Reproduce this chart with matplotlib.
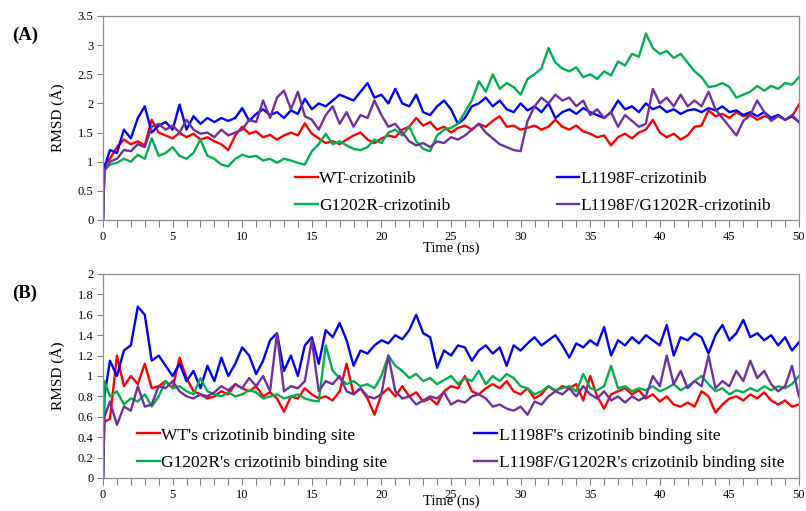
import numpy as np
import matplotlib.pyplot as plt
from matplotlib.ticker import MultipleLocator, FuncFormatter

plt.rcParams['font.family'] = ['Liberation Serif', 'DejaVu Serif']

# sample times (ns): start, first frame, then every 0.5 ns
time = np.concatenate([[0.0, 0.1], np.arange(0.5, 50.01, 0.5)])

# ---- (A) RMSD of complexes ----
wt_a = [0, 0.95,
        1.05, 1.25, 1.38, 1.30, 1.35, 1.28, 1.72, 1.50, 1.45, 1.40,
        1.50, 1.42, 1.48, 1.38, 1.42, 1.35, 1.30, 1.20, 1.45, 1.60,
        1.48, 1.52, 1.42, 1.46, 1.38, 1.45, 1.50, 1.45, 1.66, 1.48,
        1.40, 1.32, 1.35, 1.30, 1.38, 1.45, 1.50, 1.38, 1.32, 1.40,
        1.45, 1.42, 1.55, 1.60, 1.75, 1.62, 1.68, 1.55, 1.60, 1.50,
        1.58, 1.62, 1.55, 1.65, 1.60, 1.70, 1.78, 1.60, 1.62, 1.55,
        1.58, 1.62, 1.55, 1.60, 1.72, 1.60, 1.55, 1.62, 1.52, 1.48,
        1.42, 1.45, 1.28, 1.42, 1.48, 1.40, 1.50, 1.55, 1.72, 1.50,
        1.42, 1.48, 1.38, 1.45, 1.60, 1.62, 1.88, 1.78, 1.82, 1.75,
        1.85, 1.78, 1.80, 1.72, 1.78, 1.75, 1.80, 1.72, 1.78, 1.98]
l1198f_a = [0, 0.90,
            1.20, 1.15, 1.55, 1.40, 1.75, 1.95, 1.50, 1.62, 1.68, 1.55,
            1.98, 1.55, 1.78, 1.65, 1.75, 1.68, 1.75, 1.70, 1.75, 1.92,
            1.70, 1.82, 1.90, 1.80, 1.85, 1.75, 1.88, 1.82, 2.08, 1.90,
            2.00, 1.95, 2.05, 2.15, 2.10, 2.05, 2.20, 2.35, 2.10, 2.15,
            2.00, 2.25, 2.00, 1.95, 2.15, 1.85, 1.80, 1.95, 2.05, 1.90,
            1.65, 1.75, 1.95, 2.00, 2.10, 1.95, 2.05, 1.90, 1.85, 2.00,
            1.88, 1.95, 1.85, 2.00, 1.75, 1.85, 1.90, 1.82, 1.92, 1.85,
            1.80, 1.75, 1.85, 2.05, 1.90, 1.95, 1.85, 2.00, 1.90, 1.95,
            1.85, 1.90, 1.82, 1.88, 1.90, 1.85, 1.92, 1.88, 1.95, 1.85,
            1.88, 1.80, 1.85, 1.78, 1.85, 1.75, 1.80, 1.72, 1.78, 1.68]
g1202r_a = [0, 0.85,
            0.95, 0.98, 1.05, 1.00, 1.12, 1.05, 1.40, 1.10, 1.15, 1.25,
            1.10, 1.05, 1.15, 1.38, 1.10, 1.05, 0.95, 0.92, 1.05, 1.12,
            1.08, 1.10, 1.02, 1.05, 0.98, 1.05, 1.02, 0.98, 0.95, 1.18,
            1.30, 1.48, 1.30, 1.35, 1.28, 1.22, 1.20, 1.25, 1.38, 1.32,
            1.50, 1.55, 1.45, 1.60, 1.35, 1.22, 1.18, 1.45, 1.55, 1.58,
            1.65, 1.85, 2.05, 2.38, 2.20, 2.50, 2.25, 2.35, 2.28, 2.15,
            2.42, 2.50, 2.60, 2.95, 2.70, 2.60, 2.55, 2.62, 2.45, 2.50,
            2.42, 2.55, 2.48, 2.72, 2.65, 2.85, 2.80, 3.20, 2.95, 2.85,
            2.90, 2.78, 2.85, 2.70, 2.55, 2.45, 2.28, 2.30, 2.35, 2.28,
            2.10, 2.15, 2.20, 2.30, 2.22, 2.30, 2.25, 2.35, 2.32, 2.45]
double_a = [0, 0.85,
            1.00, 1.05, 1.20, 1.18, 1.30, 1.25, 1.60, 1.65, 1.55, 1.62,
            1.50, 1.72, 1.55, 1.48, 1.50, 1.42, 1.55, 1.45, 1.50, 1.55,
            1.72, 1.68, 2.05, 1.75, 2.10, 2.22, 1.90, 2.20, 1.78, 1.72,
            1.55, 1.80, 1.95, 1.65, 1.85, 1.60, 1.80, 1.75, 2.05, 1.80,
            1.60, 1.65, 1.50, 1.35, 1.28, 1.32, 1.25, 1.35, 1.32, 1.42,
            1.38, 1.45, 1.55, 1.65, 1.50, 1.40, 1.30, 1.25, 1.20, 1.18,
            1.70, 1.95, 2.10, 2.00, 2.15, 2.05, 2.10, 1.95, 2.05, 1.80,
            1.90, 1.75, 1.85, 1.60, 1.80, 1.70, 1.60, 1.65, 2.25, 2.00,
            2.10, 1.95, 2.15, 1.95, 2.05, 1.95, 2.20, 1.90, 1.75, 1.60,
            1.45, 1.70, 1.80, 2.05, 1.85, 1.70, 1.78, 1.72, 1.80, 1.68]

# ---- (B) RMSD of crizotinib binding sites ----
wt_b = [0, 0.55,
        0.58, 1.20, 0.90, 1.00, 0.92, 1.12, 0.88, 0.90, 0.95, 0.88,
        1.18, 0.98, 0.85, 0.82, 0.78, 0.80, 0.85, 0.82, 0.92, 0.88,
        0.85, 0.90, 0.80, 0.84, 0.78, 0.65, 0.80, 0.78, 0.88, 0.82,
        0.78, 0.80, 0.76, 0.85, 1.12, 0.82, 0.88, 0.78, 0.62, 0.82,
        0.88, 0.80, 0.90, 0.80, 0.84, 0.75, 0.78, 0.72, 0.85, 0.90,
        0.88, 1.00, 0.85, 0.82, 0.88, 0.92, 0.88, 0.95, 0.85, 0.82,
        0.88, 0.78, 0.82, 0.90, 0.85, 0.90, 0.88, 0.92, 0.76, 1.00,
        0.80, 0.68, 0.82, 0.85, 0.88, 0.82, 0.86, 0.78, 0.82, 0.75,
        0.80, 0.72, 0.70, 0.74, 0.70, 0.85, 0.80, 0.64, 0.72, 0.78,
        0.80, 0.76, 0.82, 0.78, 0.84, 0.76, 0.72, 0.76, 0.70, 0.72]
l1198f_b = [0, 0.80,
            1.15, 1.00, 1.25, 1.30, 1.68, 1.60, 1.15, 1.20, 1.10, 1.00,
            1.12, 0.95, 1.05, 0.88, 1.10, 0.95, 1.18, 1.00, 1.12, 1.28,
            1.20, 1.02, 1.15, 1.35, 1.42, 1.05, 1.20, 1.00, 1.30, 1.38,
            1.12, 1.45, 1.38, 1.52, 1.35, 1.10, 1.25, 1.22, 1.30, 1.35,
            1.32, 1.40, 1.36, 1.45, 1.60, 1.42, 1.38, 1.08, 1.25, 1.20,
            1.30, 1.28, 1.15, 1.25, 1.30, 1.22, 1.28, 1.10, 1.30, 1.25,
            1.32, 1.38, 1.30, 1.35, 1.40, 1.30, 1.18, 1.32, 1.28, 1.35,
            1.30, 1.48, 1.20, 1.35, 1.30, 1.38, 1.32, 1.40, 1.35, 1.30,
            1.50, 1.20, 1.38, 1.35, 1.42, 1.38, 1.22, 1.40, 1.50, 1.35,
            1.42, 1.55, 1.38, 1.42, 1.35, 1.40, 1.30, 1.38, 1.25, 1.33]
g1202r_b = [0, 0.95,
            0.80, 0.85, 0.72, 0.78, 0.75, 0.82, 0.70, 0.80, 0.95, 0.88,
            0.90, 0.85, 0.82, 0.98, 0.85, 0.82, 0.80, 0.84, 0.80, 0.82,
            0.86, 0.84, 0.78, 0.80, 0.82, 0.78, 0.80, 0.82, 0.78, 0.76,
            0.75, 1.30, 1.05, 0.98, 0.92, 0.95, 0.90, 0.92, 0.88, 1.00,
            1.20, 1.10, 1.05, 0.98, 1.02, 0.95, 0.98, 0.92, 0.96, 1.00,
            0.92, 0.98, 0.95, 1.05, 0.92, 1.00, 0.95, 1.02, 0.98, 0.90,
            0.88, 0.82, 0.85, 0.90, 0.86, 0.88, 0.90, 0.85, 1.02, 0.88,
            0.86, 0.90, 1.10, 0.88, 0.90, 0.85, 0.88, 0.86, 0.90, 0.85,
            0.88, 0.92, 0.86, 0.90, 0.95, 1.00, 0.92, 0.85, 0.88, 0.82,
            0.86, 0.84, 0.88, 0.85, 0.90, 0.86, 0.90, 0.88, 0.92, 1.00]
double_b = [0, 0.60,
            0.75, 0.52, 0.70, 0.66, 0.90, 0.70, 0.72, 0.90, 0.88, 0.95,
            0.85, 0.80, 0.78, 0.82, 0.80, 0.84, 0.90, 0.86, 0.92, 0.88,
            0.98, 0.90, 1.00, 0.85, 1.42, 0.85, 0.90, 0.88, 0.95, 1.35,
            0.85, 0.95, 0.92, 1.00, 0.85, 0.82, 0.88, 0.80, 0.78, 0.82,
            1.20, 0.85, 0.78, 0.80, 0.72, 0.76, 0.80, 0.78, 0.84, 0.72,
            0.76, 0.74, 0.80, 0.82, 0.78, 0.70, 0.72, 0.68, 0.66, 0.70,
            0.62, 0.75, 0.72, 0.80, 0.85, 0.82, 0.88, 0.80, 0.90, 0.82,
            0.78, 0.85, 0.76, 0.80, 0.74, 0.80, 0.76, 0.80, 1.00, 0.90,
            1.20, 0.92, 1.05, 0.88, 0.95, 0.90, 1.20, 0.88, 0.95, 0.90,
            1.05, 0.95, 1.15, 0.98, 1.05, 0.92, 0.85, 0.90, 1.10, 0.80]

labels_a = ['WT-crizotinib', 'L1198F-crizotinib', 'G1202R-crizotinib',
            'L1198F/G1202R-crizotinib']
labels_b = ["WT's crizotinib binding site", "L1198F's crizotinib binding site",
            "G1202R's crizotinib binding site",
            "L1198F/G1202R's crizotinib binding site"]
colors = ['#FF0000', '#0000FF', '#00B050', '#7030A0']

fig = plt.figure(figsize=(8.06, 5.11), dpi=100)
ax_a = fig.add_axes([0.1278, 0.5695, 0.8635, 0.3992])
ax_b = fig.add_axes([0.1278, 0.0646, 0.8635, 0.3992])

# axes, series, labels, ymax, ystep, legend anchor, column gap, xlabel pad, tag
panels = [
    (ax_a, [wt_a, l1198f_a, g1202r_a, double_a], labels_a, 3.5, 0.5,
     (0.276, 0.135), 6.1, 0.62, -1, '(A)'),
    (ax_b, [wt_b, l1198f_b, g1202r_b, double_b], labels_b, 2.0, 0.2,
     (0.049, 0.14), 5.0, 0.68, -5, '(B)'),
]

for ax, series, labels, ymax, ystep, anchor, colsp, lsp, xpad, tag in panels:
    lines = []
    for vals, lab, c in zip(series, labels, colors):
        ln, = ax.plot(time, vals, color=c, lw=1.7, label=lab)
        lines.append(ln)

    ax.set_xlim(0, 50)
    ax.set_ylim(0, ymax)
    ax.xaxis.set_major_locator(MultipleLocator(5))
    ax.xaxis.set_minor_locator(MultipleLocator(1))
    ax.yaxis.set_major_locator(MultipleLocator(ystep))
    ax.yaxis.set_major_formatter(FuncFormatter(lambda v, p: '%g' % round(v, 2)))
    ax.tick_params(axis='both', which='both', direction='out', colors='#808080',
                   labelcolor='black', labelsize=9, width=0.8)
    ax.tick_params(axis='x', which='both', length=5, pad=3)
    ax.tick_params(axis='y', length=4, pad=3)
    for sp in ax.spines.values():
        sp.set_color('#8c8c8c')
        sp.set_linewidth(0.9)

    ax.set_xlabel('Time (ns)', fontsize=10.5, labelpad=xpad)
    ax.set_ylabel('RMSD (Å)', fontsize=11, labelpad=9)

    # legend order: column 1 = WT, G1202R ; column 2 = L1198F, double mutant
    order = [0, 2, 1, 3]
    ax.legend([lines[i] for i in order], [labels[i] for i in order],
              ncol=2, loc='center left', bbox_to_anchor=anchor,
              frameon=False, fontsize=12.5, handlelength=1.3,
              handletextpad=0.1, columnspacing=colsp, labelspacing=lsp,
              borderpad=0, borderaxespad=0)

    ax.text(-0.131, 0.905, tag, transform=ax.transAxes,
            fontsize=13.5, fontweight='bold', ha='left', va='center')

fig.savefig('out.png', dpi=100)
